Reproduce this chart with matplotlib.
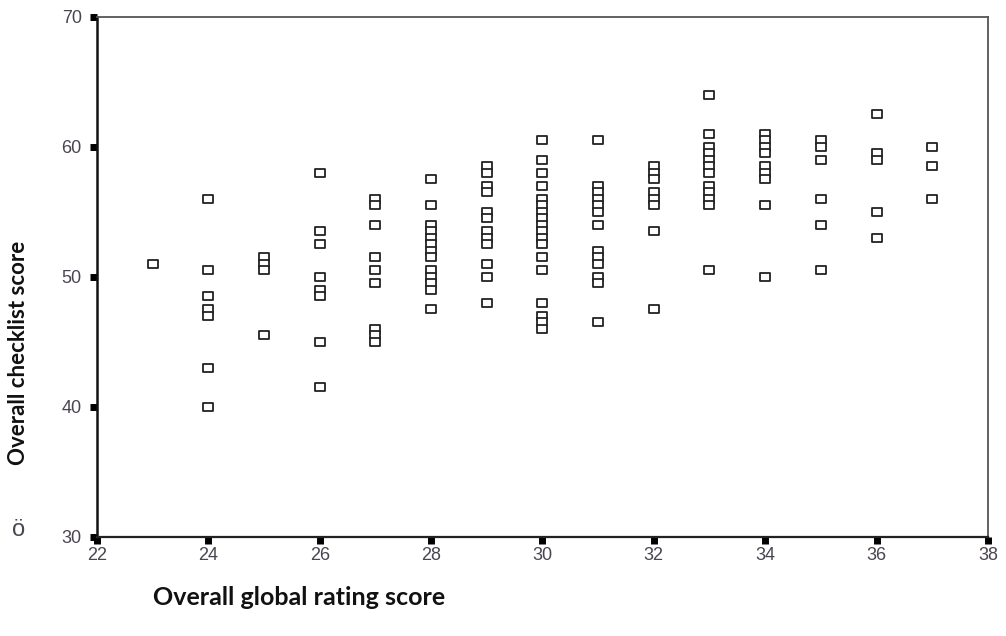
import matplotlib
matplotlib.use('Agg')
import matplotlib.pyplot as plt
from matplotlib.path import Path
import numpy as np

# Overall global rating score -> overall checklist scores
x_values = [23, 24, 25, 26, 27, 28, 29, 30, 31, 32, 33, 34, 35, 36, 37]
y_by_x = [
    [51],
    [56, 50.5, 48.5, 47.5, 47, 43, 40],
    [51.5, 51, 50.5, 45.5],
    [58, 53.5, 52.5, 50, 49, 48.5, 45, 41.5],
    [56, 55.5, 54, 51.5, 50.5, 49.5, 46, 45.5, 45],
    [57.5, 55.5, 54, 53.5, 53, 52.5, 52, 51.5, 50.5, 50, 49.5, 49, 47.5],
    [58.5, 58, 57, 56.5, 55, 54.5, 53.5, 53, 52.5, 51, 50, 48],
    [60.5, 59, 58, 57, 56, 55.5, 55, 54.5, 54, 53.5, 53, 52.5, 51.5, 50.5,
     48, 47, 46.5, 46],
    [60.5, 57, 56.5, 56, 55.5, 55, 54, 52, 51.5, 51, 50, 49.5, 46.5],
    [58.5, 58, 57.5, 56.5, 56, 55.5, 53.5, 47.5],
    [64, 61, 60, 59.5, 59, 58.5, 58, 57, 56.5, 56, 55.5, 50.5],
    [61, 60.5, 60, 59.5, 58.5, 58, 57.5, 55.5, 50],
    [60.5, 60, 59, 56, 54, 50.5],
    [62.5, 59.5, 59, 55, 53],
    [60, 58.5, 56],
]
x_ticks = [22, 24, 26, 28, 30, 32, 34, 36, 38]
y_ticks = [30, 40, 50, 60, 70]

xs = [x for x, ys in zip(x_values, y_by_x) for _ in ys]
ys = [y for ys_ in y_by_x for y in ys_]

# slightly wide open rectangle marker
rect = Path([(-1.35, -1), (1.35, -1), (1.35, 1), (-1.35, 1), (-1.35, -1)],
            [Path.MOVETO, Path.LINETO, Path.LINETO, Path.LINETO, Path.CLOSEPOLY])

label_font = ['Lato', 'DejaVu Sans']
tick_font = ['Liberation Sans', 'DejaVu Sans']
tick_color = '#4a4550'

fig = plt.figure(figsize=(10.06, 6.36), dpi=100)
ax = fig.add_axes([0.0964, 0.1557, 0.8856, 0.8176])

ax.scatter(xs, ys, marker=rect, s=50, facecolors='white', edgecolors='#222222',
           linewidths=1.3, zorder=3)

ax.set_xlim(22, 38)
ax.set_ylim(30, 70)
ax.set_xticks(x_ticks)
ax.set_yticks(y_ticks)
ax.tick_params(axis='both', direction='out', length=5, width=5, color='black',
               labelsize=13, labelcolor=tick_color, pad=2)
ax.tick_params(axis='y', pad=6)
for lab in ax.get_xticklabels() + ax.get_yticklabels():
    lab.set_family(tick_font)

ax.spines['left'].set_linewidth(1.8)
ax.spines['left'].set_color('#111111')
ax.spines['bottom'].set_linewidth(1.6)
ax.spines['bottom'].set_color('#222222')
ax.spines['top'].set_linewidth(1.3)
ax.spines['top'].set_color('#555555')
ax.spines['right'].set_linewidth(1.3)
ax.spines['right'].set_color('#555555')

fig.text(0.018, 0.445, 'Overall checklist score', rotation=90, ha='center',
         va='center', fontsize=16, fontweight='bold', color='#111111',
         family=label_font)
fig.text(0.152, 0.06, 'Overall global rating score', ha='left', va='center',
         fontsize=18, fontweight='bold', color='#111111', family=label_font)
fig.text(0.018, 0.166, 'ö', ha='center', va='center', fontsize=17,
         color=tick_color, family=tick_font)

fig.savefig('out.png', dpi=100, facecolor='white')
